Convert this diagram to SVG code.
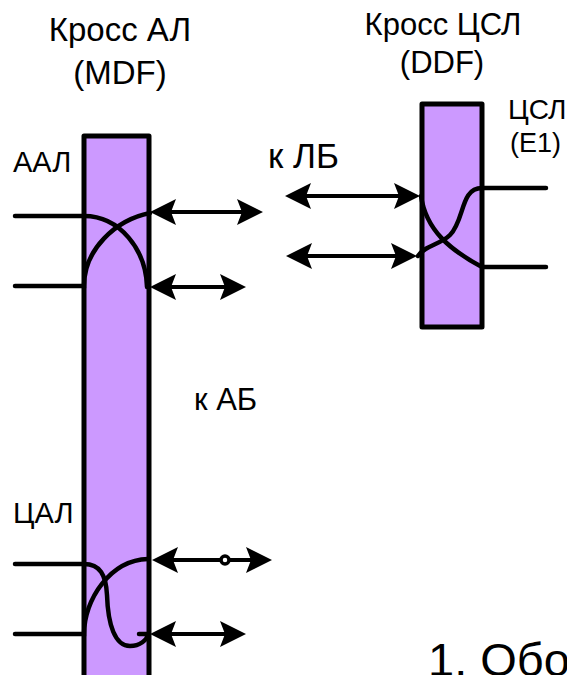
<svg xmlns="http://www.w3.org/2000/svg" width="567" height="675" viewBox="0 0 567 675">
<style>
text{font-family:"Liberation Sans",Arial,sans-serif;fill:#000}
.bar{fill:#cc99ff;stroke:#000;stroke-width:5;stroke-linejoin:round}
.wire{fill:none;stroke:#000;stroke-width:4.5;stroke-linecap:round}
.arrow{fill:none;stroke:#000;stroke-width:4;marker-start:url(#head);marker-end:url(#head)}
</style>
<defs>
<marker id="head" markerUnits="userSpaceOnUse" markerWidth="30" markerHeight="30" refX="21" refY="14" orient="auto-start-reverse">
<path d="M27 14 L1 1 L6 14 L1 27 Z" fill="#000"/>
</marker>
</defs>
<rect width="567" height="675" fill="#fff"/>
<g id="node-mdf">
<rect class="bar" x="84" y="136" width="65" height="560"/>
<text x="120" y="41" font-size="33" text-anchor="middle">Кросс АЛ</text>
<text x="120" y="84" font-size="33" text-anchor="middle">(MDF)</text>
</g>
<g id="node-ddf">
<rect class="bar" x="422" y="104" width="60" height="223"/>
<text x="443" y="35" font-size="31" text-anchor="middle">Кросс ЦСЛ</text>
<text x="442" y="73" font-size="31" text-anchor="middle">(DDF)</text>
</g>
<g id="labels">
<text x="13" y="172" font-size="29">ААЛ</text>
<text x="268" y="168" font-size="35">к ЛБ</text>
<text x="508" y="119" font-size="28">ЦСЛ</text>
<text x="510" y="152" font-size="27">(E1)</text>
<text x="194" y="410" font-size="31">к АБ</text>
<text x="13" y="523" font-size="29">ЦАЛ</text>
<text x="428" y="676" font-size="47">1. Обо</text>
</g>
<g id="connectors">
<path class="wire" d="M15 216 H84 C120 216 146 250 147 287"/>
<path class="wire" d="M15 286 H84 C84 250 115 220 150 213"/>
<path class="wire" d="M421 196 C426 230 450 250 482 267 H546"/>
<path class="wire" d="M418 256 C425 245 440 245 450 235 C465 220 460 188 482 188 H546"/>
<path class="wire" d="M15 564 H84 C100 564 106 575 107 595 C108 625 115 646 130 646 C140 646 147 640 148 634 H139"/>
<path class="wire" d="M15 634 H84 C84 600 110 560 148 559"/>
<line class="arrow" x1="156" y1="212" x2="257" y2="212"/>
<line class="arrow" x1="156" y1="287" x2="240" y2="287"/>
<line class="arrow" x1="291" y1="196" x2="414" y2="196"/>
<line class="arrow" x1="292" y1="256" x2="411" y2="256"/>
<line class="arrow" x1="158" y1="560" x2="266" y2="560"/>
<line class="arrow" x1="156" y1="634" x2="240" y2="634"/>
<circle cx="225" cy="560" r="4" fill="#fff" stroke="#000" stroke-width="3.5"/>
</g>
</svg>
